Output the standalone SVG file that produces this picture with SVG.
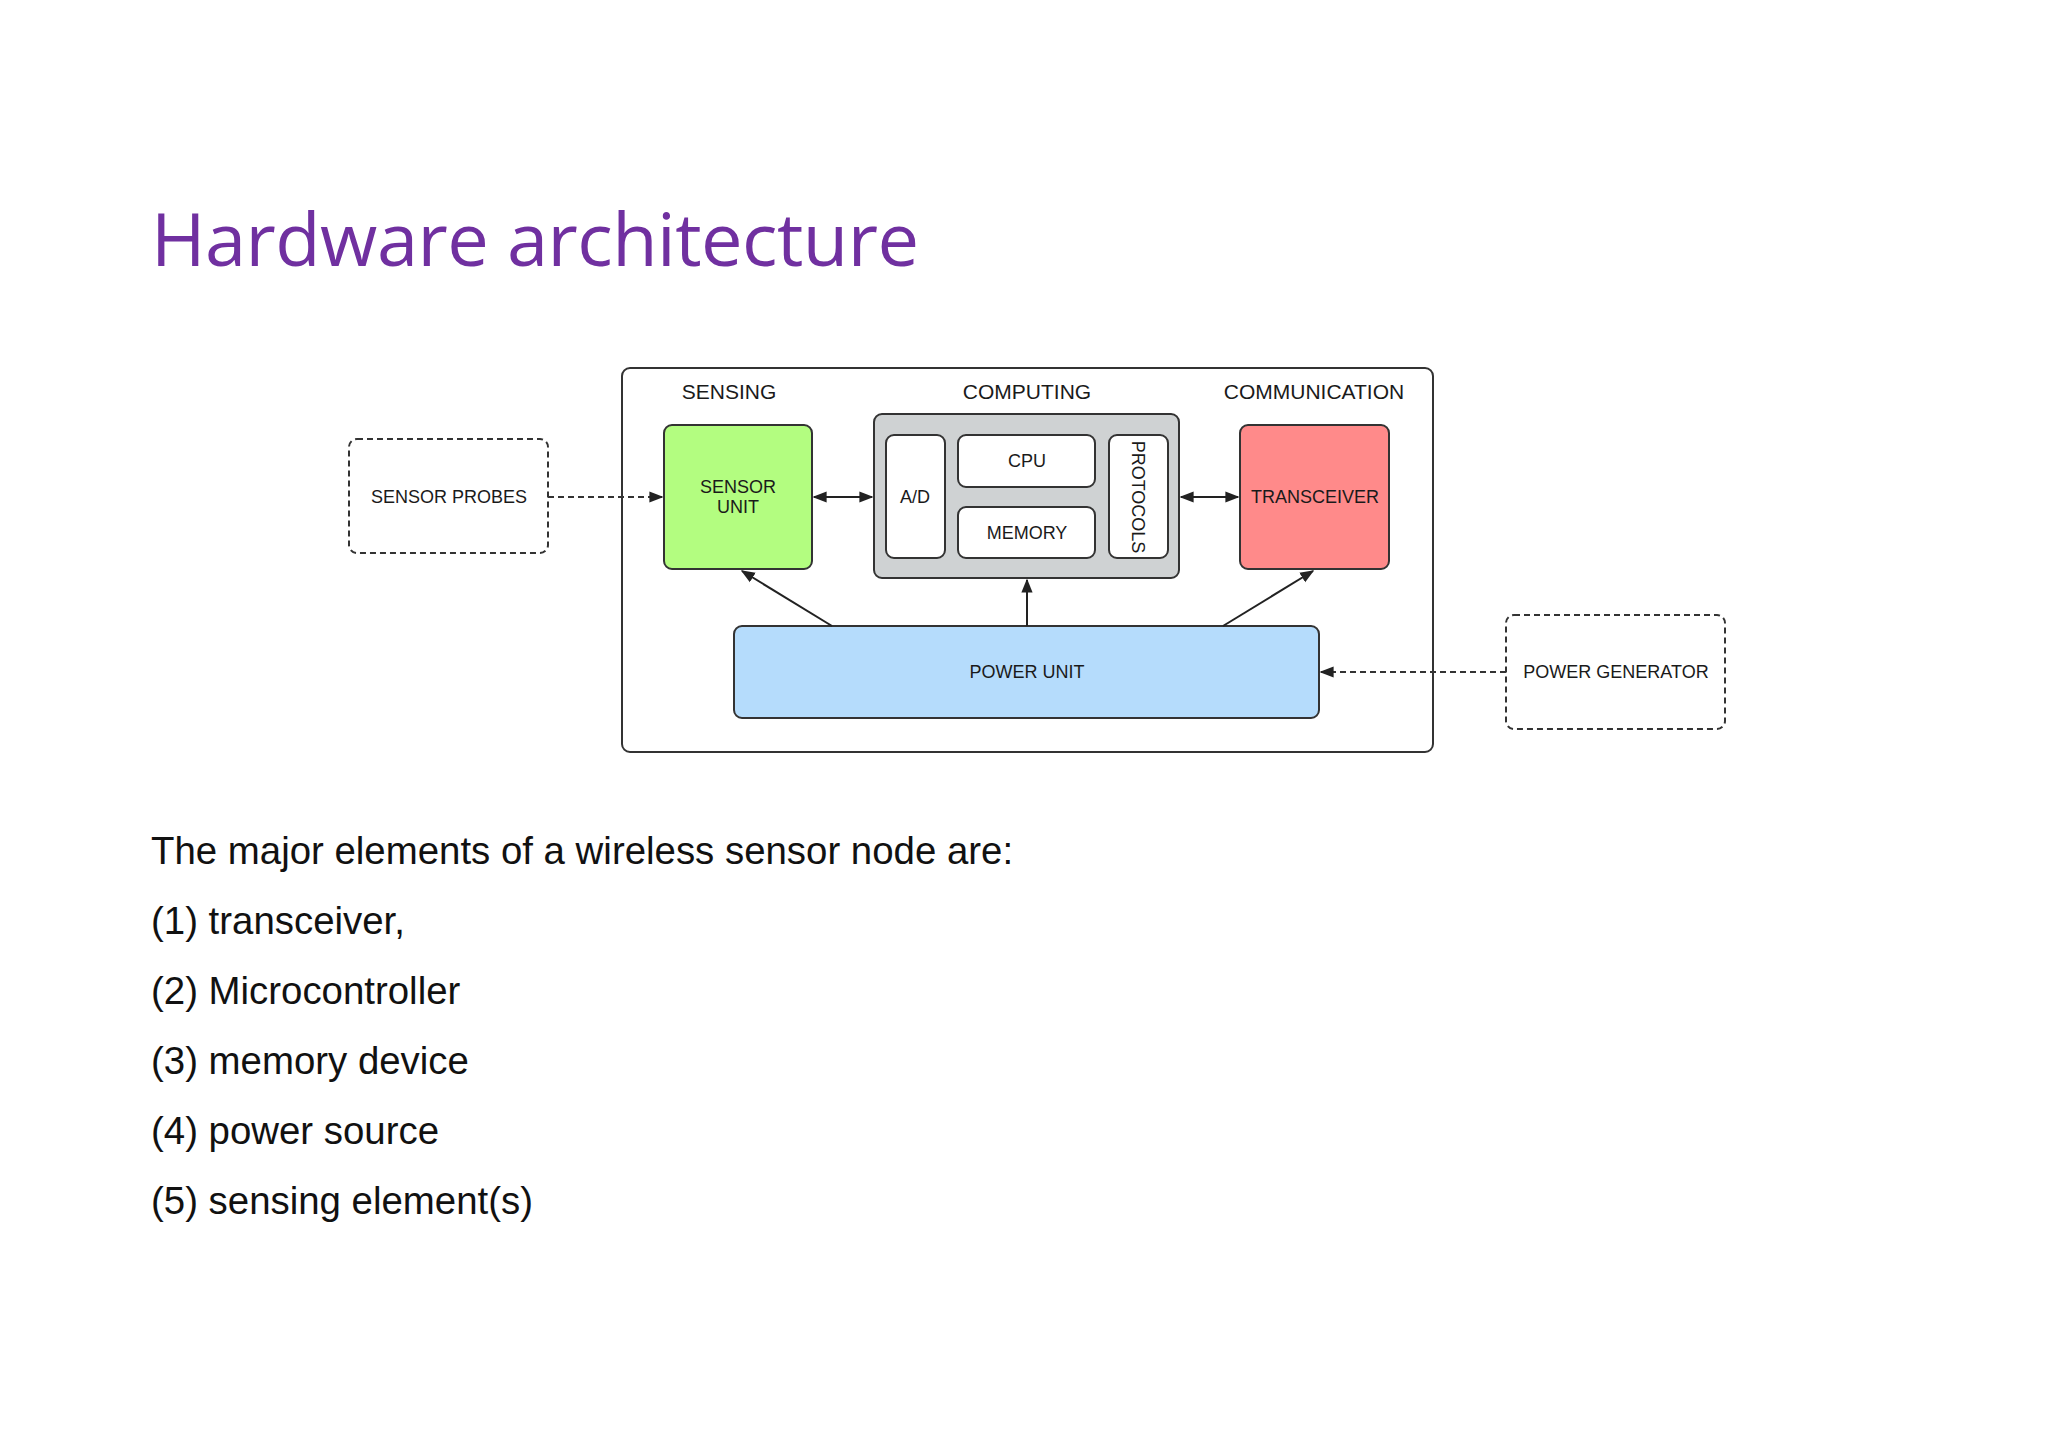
<svg xmlns="http://www.w3.org/2000/svg" width="2048" height="1447" viewBox="0 0 2048 1447">
<style>
.t{font-family:"Liberation Sans",Arial,sans-serif;fill:#1a1a1a;text-anchor:middle}
.h{font-size:21px}
.s{font-size:18px}
.b{stroke:#333;stroke-width:2}
.d{fill:none;stroke:#333;stroke-width:2;stroke-dasharray:6 4}
.c{stroke:#222;stroke-width:2;fill:none}
.body{font-family:"Liberation Sans",Arial,sans-serif;font-size:38.4px;fill:#111}
</style>
<defs>
<marker id="a" viewBox="0 0 10 10" refX="9" refY="5" markerWidth="7" markerHeight="7" orient="auto-start-reverse"><path d="M0,1 L10,5 L0,9 z" fill="#222"/></marker>
</defs>
<rect width="2048" height="1447" fill="#fff"/>
<text x="151" y="266" font-family="'Open Sans','Noto Sans',sans-serif" font-size="74" fill="#7030a0" textLength="768">Hardware architecture</text>
<g id="outer"><rect x="622" y="368" width="811" height="384" rx="8" fill="#fff" class="b"/>
<text class="t h" x="729" y="399">SENSING</text>
<text class="t h" x="1027" y="399">COMPUTING</text>
<text class="t h" x="1314" y="399">COMMUNICATION</text></g>
<g id="probes"><rect x="349" y="439" width="199" height="114" rx="8" fill="#fff" class="d"/><text class="t s" x="449" y="503">SENSOR PROBES</text></g>
<g id="sensor"><rect x="664" y="425" width="148" height="144" rx="8" fill="#b3fd80" class="b"/><text class="t s" x="738" y="493">SENSOR</text><text class="t s" x="738" y="513">UNIT</text></g>
<g id="computing"><rect x="874" y="414" width="305" height="164" rx="8" fill="#cfd2d3" class="b"/>
<rect x="886" y="435" width="59" height="123" rx="8" fill="#fff" class="b"/><text class="t s" x="915" y="503">A/D</text>
<rect x="958" y="435" width="137" height="52" rx="8" fill="#fff" class="b"/><text class="t s" x="1027" y="467">CPU</text>
<rect x="958" y="507" width="137" height="51" rx="8" fill="#fff" class="b"/><text class="t s" x="1027" y="539">MEMORY</text>
<rect x="1109" y="435" width="59" height="123" rx="8" fill="#fff" class="b"/><text class="t s" transform="translate(1132,497) rotate(90)">PROTOCOLS</text></g>
<g id="transceiver"><rect x="1240" y="425" width="149" height="144" rx="8" fill="#ff8a8a" class="b"/><text class="t s" x="1315" y="503">TRANSCEIVER</text></g>
<g id="power"><rect x="734" y="626" width="585" height="92" rx="8" fill="#b5dcfc" class="b"/><text class="t s" x="1027" y="678">POWER UNIT</text></g>
<g id="generator"><rect x="1506" y="615" width="219" height="114" rx="8" fill="#fff" class="d"/><text class="t s" x="1616" y="678">POWER GENERATOR</text></g>
<g id="connectors">
<line x1="548" y1="497" x2="662" y2="497" class="d" marker-end="url(#a)"/>
<line x1="814" y1="497" x2="872" y2="497" class="c" marker-start="url(#a)" marker-end="url(#a)"/>
<line x1="1181" y1="497" x2="1238" y2="497" class="c" marker-start="url(#a)" marker-end="url(#a)"/>
<line x1="832" y1="626" x2="742" y2="571" class="c" marker-end="url(#a)"/>
<line x1="1027" y1="626" x2="1027" y2="580" class="c" marker-end="url(#a)"/>
<line x1="1223" y1="626" x2="1313" y2="571" class="c" marker-end="url(#a)"/>
<line x1="1506" y1="672" x2="1321" y2="672" class="d" marker-end="url(#a)"/>
</g>
<text class="body" x="151" y="864">The major elements of a wireless sensor node are:</text>
<text class="body" x="151" y="934">(1) transceiver,</text>
<text class="body" x="151" y="1004">(2) Microcontroller</text>
<text class="body" x="151" y="1074">(3) memory device</text>
<text class="body" x="151" y="1144">(4) power source</text>
<text class="body" x="151" y="1214">(5) sensing element(s)</text>
</svg>
